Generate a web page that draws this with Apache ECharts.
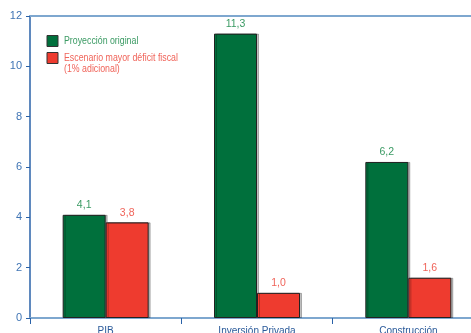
<!DOCTYPE html>
<html><head><meta charset="utf-8">
<script src="https://cdn.jsdelivr.net/npm/echarts@6/dist/echarts.min.js"></script>
<style>html,body{margin:0;padding:0;background:#fff}#c{width:471px;height:333px}</style>
</head><body><div id="c"></div>
<script>
const categories = ["PIB", "Inversión Privada", "Construcción"];
const original = [4.1, 11.3, 6.2];
const deficit = [3.8, 1.0, 1.6];
const yTicks = [0, 2, 4, 6, 8, 10, 12];
const seriesNames = ["Proyección original", "Escenario mayor déficit fiscal"];
const noteText = "(1% adicional)";

const FONT = "'Liberation Sans', Arial, sans-serif";
const GREEN = "#00703c", RED = "#ee3b2f";
const GREEN_T = "#3a9a63", RED_T = "#f0645a";
const fmt = p => p.value.toFixed(1).replace('.', ',');
const SX = 0.8;

const legendText = (text, x, y, color) => ({
  type: 'text', x: x, y: y, scaleX: SX, silent: true,
  style: { text: text, fill: color, font: "11px " + FONT, textVerticalAlign: 'middle' }
});
const legendBox = (y, color) => ({
  type: 'rect', shape: { x: 47, y: y, width: 11, height: 11 }, silent: true,
  style: { fill: color, stroke: '#333', lineWidth: 1 }
});

const chart = echarts.init(document.getElementById('c'));
chart.setOption({
  animation: false,
  textStyle: { fontFamily: FONT },
  grid: { left: 30, right: -13, top: 16, bottom: 15, containLabel: false, outerBoundsMode: 'none' },
  graphic: [
    legendBox(35.5, GREEN), legendText(seriesNames[0], 64, 41, GREEN_T),
    legendBox(52.5, RED), legendText(seriesNames[1], 64, 57.5, RED_T),
    legendText(noteText, 64, 69, RED_T)
  ],
  xAxis: [{
    type: 'category', data: categories,
    axisLine: { lineStyle: { color: '#7ea7cf', width: 2 } },
    axisTick: { show: true, length: 6, lineStyle: { color: '#2a62a8', width: 1 } },
    axisLabel: { color: '#2a5a9a', fontSize: 10, margin: 8, fontFamily: FONT }
  }, {
    type: 'category', data: categories, position: 'top',
    axisLine: { lineStyle: { color: '#7ea7cf', width: 2 } },
    axisTick: { show: false }, axisLabel: { show: false }
  }],
  yAxis: {
    type: 'value', min: 0, max: 12, interval: 2,
    axisLine: { show: true, lineStyle: { color: '#2a62a8', width: 1.5 } },
    axisTick: { show: true, length: 4, lineStyle: { color: '#2a62a8' } },
    splitLine: { show: false },
    axisLabel: { color: '#3f74b4', fontSize: 11, margin: 8, fontFamily: FONT,
      formatter: v => yTicks.includes(v) ? String(v) : '' }
  },
  series: [{
    name: seriesNames[0], type: 'bar', data: original, barWidth: 43, barGap: '0%',
    itemStyle: { color: GREEN, borderColor: '#222', borderWidth: 1, shadowColor: 'rgba(0,0,0,0.25)', shadowOffsetX: 2, shadowOffsetY: 0 },
    label: { show: true, position: 'top', distance: 4, color: GREEN_T, fontSize: 10.5, fontFamily: FONT, formatter: fmt }
  }, {
    name: seriesNames[1], type: 'bar', data: deficit, barWidth: 43,
    itemStyle: { color: RED, borderColor: '#222', borderWidth: 1, shadowColor: 'rgba(0,0,0,0.25)', shadowOffsetX: 2, shadowOffsetY: 0 },
    label: { show: true, position: 'top', distance: 4, color: RED_T, fontSize: 10.5, fontFamily: FONT, formatter: fmt }
  }]
});
</script></body></html>
